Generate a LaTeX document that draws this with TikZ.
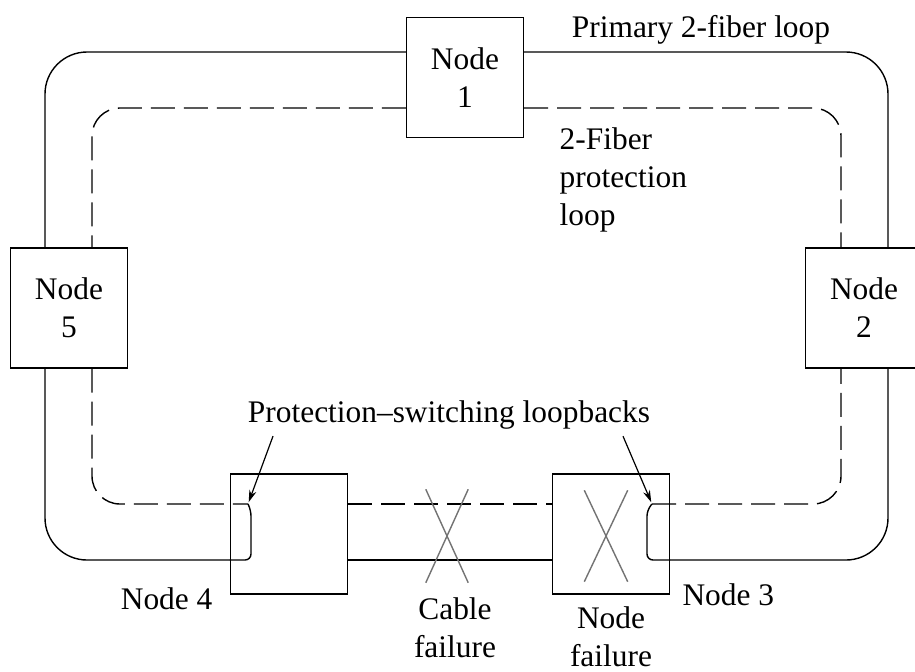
\documentclass[tikz,border=0pt]{standalone}
\usepackage{fontspec}
\setmainfont{Liberation Serif}
\usetikzlibrary{positioning,shapes.misc,arrows.meta}
\begin{document}
\begin{tikzpicture}[x=0.5pt, y=-0.5pt, font=\fontsize{15.7}{19}\selectfont, line width=0.7pt]
    \tikzstyle{node box}=[draw, minimum width=58.5pt, minimum height=60pt, inner sep=0pt, align=center]
    \tikzstyle{primary}=[rounded corners=21pt]
    \tikzstyle{protect}=[dash pattern=on 12pt off 4.5pt, rounded corners=14pt]
    \tikzstyle{loopback}=[rounded corners=3pt]
    \tikzstyle{failure}=[cross out, draw=black!55, inner sep=0pt]
    \tikzstyle{pointer}=[-{Stealth[length=6pt, width=3.6pt]}, line width=0.6pt, shorten >=1pt]

    \clip (0,0) rectangle (915,671);
    \fill[white] (0,0) rectangle (915,671);

    % 节点
    \node[node box] (n1) at (465,77.5) {Node\\1};
    \node[node box] (n2) at (864,308) {Node\\2};
    \node[node box] (n5) at (69,308) {Node\\5};
    \node[node box] (n4) at (289,534) {};
    \node[node box] (n3) at (611,534) {};

    % 环路拐角
    \coordinate (P) at (45,52);
    \coordinate (Q) at (888,560);
    \coordinate (S) at (92,108);
    \coordinate (T) at (841,504);
    \coordinate (lb4) at (248,504);
    \coordinate (lb3) at (652,504);

    % 主环 (实线)
    \draw[primary] (n1.west |- P) -- (P) -- (P |- n5.north);
    \draw[primary] (n1.east |- P) -- (Q |- P) -- (Q |- n2.north);
    \draw[primary] (P |- n5.south) -- (P |- Q) -- (n4.west |- Q);
    \draw (n4.east |- Q) -- (n3.west |- Q);
    \draw[primary] (n3.east |- Q) -- (Q) -- (Q |- n2.south);

    % 保护环 (虚线)
    \draw[protect] (n1.west |- S) -- (S) -- (S |- n5.north);
    \draw[protect] (n1.east |- S) -- (T |- S) -- (T |- n2.north);
    \draw[protect] (S |- n5.south) -- (S |- T) -- (lb4);
    \draw[protect] (n4.east |- T) -- (n3.west |- T);
    \draw[protect] (lb3) -- (T) -- (T |- n2.south);

    % 环回
    \draw[loopback] (n4.west |- Q) -- (251,560) -- (251,510) -- (lb4);
    \draw[loopback] (n3.east |- Q) -- (647,560) -- (647,510) -- (lb3);

    % 故障
    \node[failure, minimum width=20.5pt, minimum height=46pt] (cable) at (447,536) {};
    \node[below=4pt of cable, xshift=4pt, align=center] (cable label) {Cable\\failure};
    \node[failure, minimum width=21pt, minimum height=45pt] (nfx) at (606,536) {};
    \node[below=2.5pt of n3, align=center] (n3 fail) {Node\\failure};

    % 标签
    \node[left=5pt of n4.south west, yshift=-2pt] (n4 label) {Node 4};
    \node[right=2.5pt of n3.south east] (n3 label) {Node 3};
    \node[anchor=base] (primary label) at (701,37) {Primary 2-fiber loop};
    \node[anchor=north west, inner sep=0pt, align=left] (protect label) at (559,127) {2-Fiber\\protection\\loop};
    \node[anchor=base] (psl) at (449,422) {Protection–switching loopbacks};
    \draw[pointer] ([xshift=-88pt]psl.south) -- (lb4);
    \draw[pointer] ([xshift=87pt]psl.south) -- (lb3);
\end{tikzpicture}
\end{document}
